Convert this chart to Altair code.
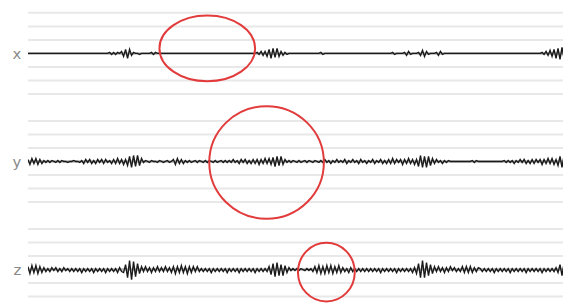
import altair as alt
import pandas as pd

# ---- data -----------------------------------------------------------------
channels = ["x", "y", "z"]
row_offsets = [0, -8, -16]          # baseline of each channel, in grid units
grid_levels = [3, 2, 1, -1, -2, -3,
               -5, -6, -7, -9, -10, -11,
               -13, -14, -15, -17, -18, -19]
counts_per_unit = 13.5               # amplitude counts per grid step

trace_x = ([0] * 41
           + [1, -1, 1, -1, 1, 0]
           + [2, -3, 4, -5, 4, -2, 1]
           + [0, 0, -1, 0, 0, 0, 0, 0]
           + [1, -1, 1, 0]
           + [0] * 49
           + [1, -1, 2, -2, 2, -3, 4, -5, 5, -4, 5, -3, 2, -2, 1, -1, 0]
           + [0] * 15
           + [1, -1, 0]
           + [0] * 33
           + [1, -1, 0, 0, 0, 0, 1, -2, 2, -1, 0, 0, 0, 1, -2, 3, -3, 2, -1, 0,
              0, 0, 1, -2, 2, -1, 0, 0]
           + [0] * 47
           + [1, -1, 2, -2, 3, -3, 4, -5, 5, -6, 6, -5, 4, -5, 3])

trace_y = ([2, -3, 3, -2, 3, -3, 2, -2, 1]
           + [-1, 1, -1, 1, 0, -1, 1, -1, 1]
           + [0, 0, -1, 0, 0, 1, 0, 0, -1]
           + [1, -2, 2, -1, 2, -2, 1, -2, 2, -1, 2, -2, 2, -1, 1, -2, 2, -2, 3,
              -2, 2, -3, 2]
           + [-4, 5, -6, 6, -5, 6, -4, 3]
           + [-1, 1, 0, -1, 1, 0, 0, -1, 1, 0, -1, 0, 1, -1, 0]
           + [2, -3, 3, -2, 2, -2, 1]
           + [-1, 1, -1, 0, 1, -1, 1, 0, -1, 1, -1, 1, 0, -1, 1, -1, 0, 1, -1,
              1, -1]
           + [1, -1, 2, -1, 1, -2, 2, -1, 2, -2, 1, -2, 2, -2, 2, -3, 2, -2, 3,
              -2, 3, -3]
           + [4, -5, 5, -4, 5, -3, 2]
           + [-1, 1, -1, 1, 0, -1, 1, -1, 0, 1, -1, 1, 0, -1, 1, 0, -1, 1]
           + [-1, 2, -1, 1, -2, 1, -1, 2, -1, 1, -1, 2, -2, 1, -1, 2, -1, 1, -2,
              2, -1, 1, -2, 1, -1, 2, -2, 1, -1]
           + [2, -2, 1, -2, 2, -2, 3, -2, 2, -1, 2, -3, 2, -2, 3, -2, 2, -3, 2]
           + [-5, 6, -6, 5, -6, 5, -4, 3]
           + [-2, 2, -1, 1, -2, 1, -1, 1]
           + [0] * 11 + [1, -1, 1] + [0] * 13
           + [1, -1, 1, -1, 1, -2, 1, -1, 2, -1, 2, -2, 1, -2, 2, -2, 2, -1, 2,
              -3, 2, -2, 3, -2, 3, -3, 2]
           + [-4, 5, -6, 6, -5, 6, -5])

trace_z = ([3, -4, 4, -3, 4, -4, 3, -3]
           + [2, -2, 1, -2, 2, -1, 2, -2, 1, -2, 2, -1]
           + [1, -2, 1, -2, 1, -2, 1, -3, 1, -2, 1, -2, 1, -3, 1, -2, 1, -2, 1,
              -3, 1, -2, 1, -2, 1, -3, 2, -2]
           + [-3, 5, -8, 9, -10, 8, -7, 6, -4, 3]
           + [-2, 3, -2, 2, -3, 2, -2, 3, -2, 2, -2, 3, -2, 2]
           + [-3, 3, -4, 3, -3, 4, -3, 3, -4, 3, -3, 3, -2, 3, -2]
           + [1, -2, 1, -2, 1, -3, 1, -2, 1, -2, 1, -2, 1, -3, 1, -2, 1, -2, 1,
              -3, 1, -2, 1, -2, 1, -2, 1, -3, 1, -2, 1, -2, 1, -2]
           + [3, -5, 6, -7, 7, -6, 5, -6, 4, -3, 2]
           + [-1, 1, -1, 1, -1, 1, 0, -1, 1, -1, 1]
           + [-2, 3, -3, 4, -4, 3, -4, 4, -3, 4, -4, 3, -3, 4, -3, 2, -2]
           + [1, -3, 2, -2, 1, -2, 1, -2, 1, -2, 1, -2, 1]
           + [-2, 1, -2, 1, -3, 1, -2, 1, -2, 1, -2, 1, -3, 1, -2, 1, -2, 1, -2,
              1, -3, 2]
           + [-4, 6, -8, 9, -8, 7, -6, 5, -4, 3]
           + [-2, 3, -2, 2, -3, 2, -2, 3, -1, 2, -2, 1]
           + [-2, 3, -3, 3, -3, 3, -3, 2, -2, 2]
           + [1, -2, 1, -2, 1, -2, 1, -3, 1, -2, 1, -2, 1, -2, 1, -3, 1, -2, 1,
              -2, 1, -2, 1, -3, 1, -2, 1, -2, 1, -2, 1, -3, 1, -2, 1, -2, 1, -2,
              2]
           + [-3, 5, -6, 6, -5, 5, -4])

# highlighted events: centre sample, centre level, width (samples), height (grid units)
circle_sample = [90, 119.75, 149.75]
circle_level = [0.37, -8.07, -16.19]
circle_width = [48, 57.5, 28.5]
circle_height = [4.87, 8.33, 4.35]

# ---- layout ---------------------------------------------------------------
W, H = 537, 292
PX_PER_SAMPLE = 2.0
x_max = W / PX_PER_SAMPLE            # visible part of the record
y_top = 3.32
y_bottom = y_top - H / 13.56
px_per_unit = H / (y_top - y_bottom)

rows = []
for ch, off, tr in zip(channels, row_offsets, [trace_x, trace_y, trace_z]):
    for i, a in enumerate(tr):
        rows.append({"channel": ch, "sample": i, "amp": a, "offset": off})
df = pd.DataFrame(rows)

circ_rows = []
for s, l, w, h in zip(circle_sample, circle_level, circle_width, circle_height):
    wpx = w * PX_PER_SAMPLE
    hpx = h * px_per_unit
    r = hpx / wpx
    path = f"M -1 0 A 1 {r:.4f} 0 1 0 1 0 A 1 {r:.4f} 0 1 0 -1 0"
    circ_rows.append({"sample": s, "level": l, "size": wpx * wpx, "shape": path})
circ = pd.DataFrame(circ_rows)

grid_df = pd.DataFrame({"level": grid_levels})
base_df = pd.DataFrame({"level": row_offsets, "channel": channels})

x_scale = alt.Scale(domain=[0, x_max], nice=False, zero=False)
y_scale = alt.Scale(domain=[y_bottom, y_top], nice=False, zero=False)

label_expr = ("datum.value == 0 ? 'x' : datum.value == -8 ? 'y' : "
              "datum.value == -16 ? 'z' : ''")

y_axis = alt.Axis(values=row_offsets, labelExpr=label_expr, grid=False,
                  domain=False, ticks=False, labelOverlap=False,
                  labelFontSize=15, labelColor="#8a8a8a", labelFont="DejaVu Sans",
                  labelPadding=7, minExtent=20, maxExtent=20, title=None)

grid = alt.Chart(grid_df).mark_rule(color="#e8e8e8", strokeWidth=2).encode(
    y=alt.Y("level:Q", scale=y_scale, axis=y_axis),
)

baselines = alt.Chart(base_df).mark_rule(color="#b4b4b4", strokeWidth=2.5).encode(
    y=alt.Y("level:Q", scale=y_scale),
)

traces = alt.Chart(df).transform_calculate(
    level=f"datum.offset + datum.amp / {counts_per_unit}"
).mark_line(color="#1a1a1a", strokeWidth=1.4, clip=True).encode(
    x=alt.X("sample:Q", scale=x_scale, axis=None),
    y=alt.Y("level:Q", scale=y_scale),
    detail="channel:N",
    order="sample:Q",
)

rings = alt.Chart(circ).mark_point(
    filled=False, color="#e23b3b", strokeWidth=2, opacity=1
).encode(
    x=alt.X("sample:Q", scale=x_scale, axis=None),
    y=alt.Y("level:Q", scale=y_scale),
    size=alt.Size("size:Q", scale=None, legend=None),
    shape=alt.Shape("shape:N", scale=None, legend=None),
)

chart = alt.layer(grid, baselines, traces, rings).properties(
    width=W, height=H, padding=0
).configure_view(strokeWidth=0)

chart.save("out.html", embed_options={"renderer": "svg", "actions": False})
